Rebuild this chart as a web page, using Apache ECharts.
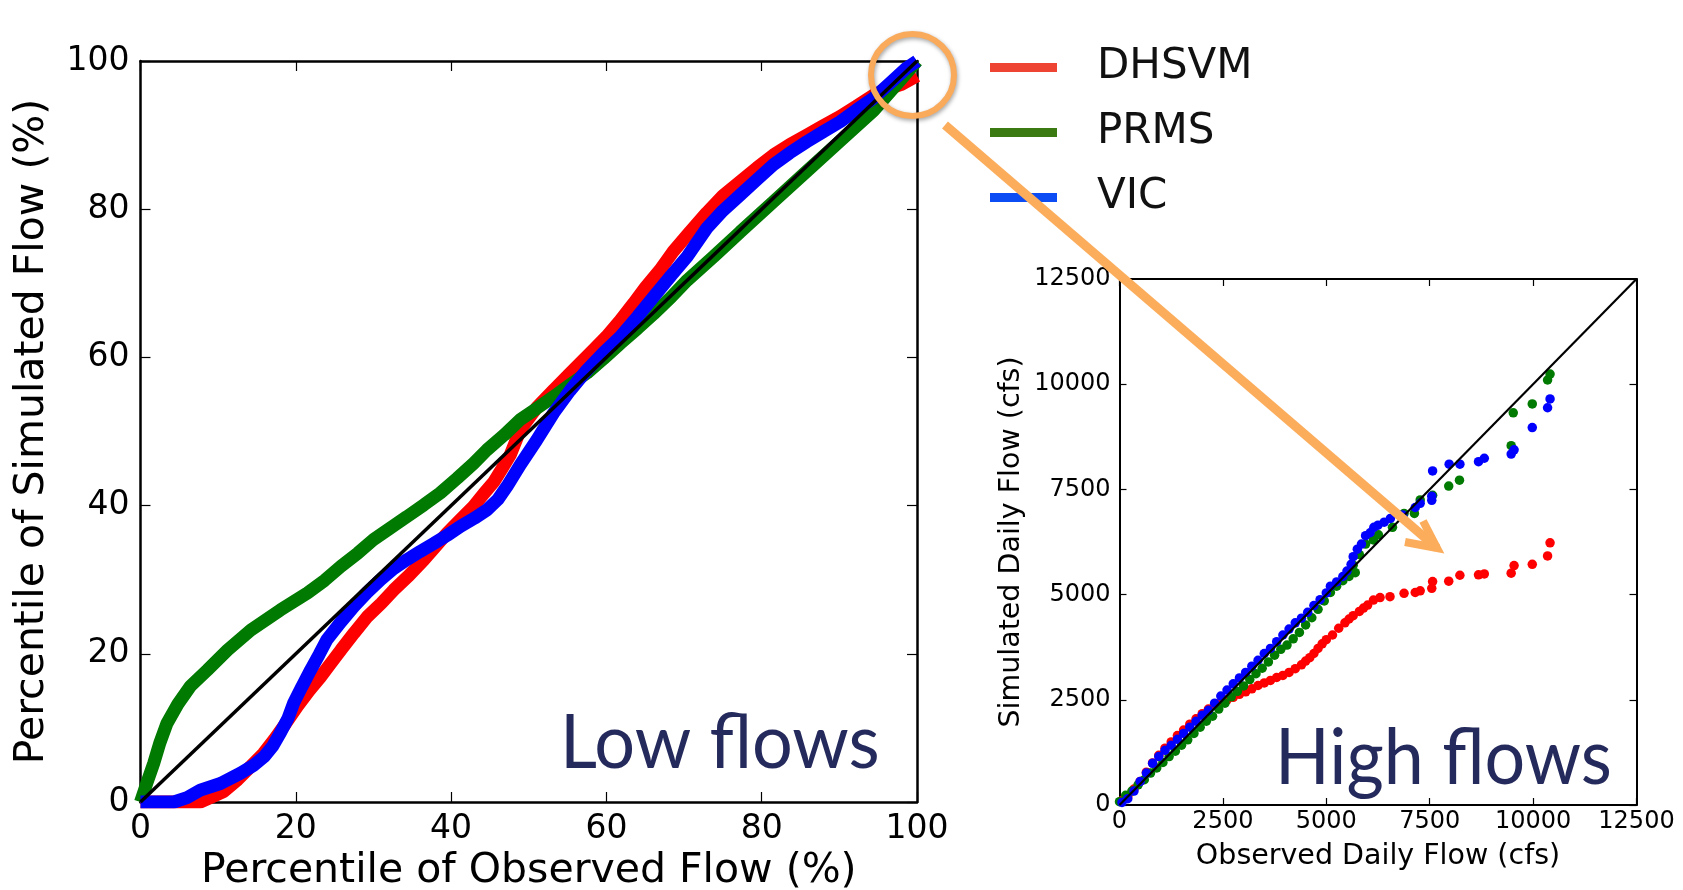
<!DOCTYPE html>
<html>
<head>
<meta charset="utf-8">
<title>Low flows / High flows</title>
<script src="https://cdn.jsdelivr.net/npm/echarts@6/dist/echarts.min.js"></script>
<style>
  html, body { margin: 0; padding: 0; background: #fff; }
  #chart { width: 1683px; height: 890px; }
</style>
</head>
<body>
<div id="chart"></div>
<script>
// legend / series names
var models = ['DHSVM', 'PRMS', 'VIC']

// low flows: percentile of observed (x) vs percentile of simulated (y)
var dhsvmLow = [[0,0],[4,0],[7.7,0],[9,0.6],[10.7,1.4],[12.5,3],[14.2,4.8],[15.8,6.5],[17.2,8.4],[18.7,10.6],[20.2,12.9],[21.7,15],[23.2,16.9],[24.5,18.7],[25.8,20.5],[27.5,22.8],[29.2,25],[31,26.8],[32.6,28.6],[34.6,30.6],[36.5,32.7],[38,34.5],[39.5,36.3],[41.2,38.1],[42.9,39.9],[44.2,41.6],[45.5,43.2],[46.5,44.9],[47.6,46.8],[48.9,50.2],[51,53.2],[53.2,55.6],[55,57.5],[56.6,59.2],[58.3,61],[60,62.8],[61.8,65],[63.5,67.3],[65,69.4],[66.9,71.8],[68.6,74.3],[70.8,77],[72.9,79.5],[75,81.8],[77.2,83.7],[79.4,85.6],[81.5,87.3],[83.6,88.7],[85.8,90],[88,91.3],[90.1,92.5],[92.2,93.9],[94.4,95.4],[96.2,96.2],[97.9,96.8],[100,98]]
var prmsLow = [[0,0],[0.8,2.5],[1.7,5.2],[2.5,8],[3.4,10.6],[4.8,13.2],[6.4,15.6],[8.6,17.8],[11.2,20.5],[14.2,23.2],[18,25.9],[21.5,28.2],[23.7,29.9],[25.8,31.8],[28,33.6],[30,35.4],[32.2,37],[34.3,38.5],[36.5,40.1],[38.6,41.7],[40.8,43.7],[42.9,45.7],[44.6,47.5],[46.8,49.5],[48.9,51.6],[51,53.1],[53.2,54.7],[55.3,56.3],[57.5,57.9],[59.6,59.8],[61.8,61.9],[64,63.9],[66.1,65.9],[68.3,68.1],[70.4,70.4],[73.8,73.6],[77.2,76.9],[81.5,81],[86,85.3],[90.1,89.2],[94.4,93.3],[97,96.4],[100,100]]
var vicLow = [[0,0],[4.3,0],[6,0.6],[7.7,1.6],[10.3,2.5],[12.9,3.9],[14.5,4.9],[15.9,6.1],[17,7.5],[18,9.3],[19,11.3],[19.7,13.3],[20.8,15.6],[21.9,17.8],[23,19.9],[24,21.9],[25.8,24.3],[27.5,26.4],[29.2,28.3],[30.9,30],[32.6,31.5],[34.3,32.7],[36,33.8],[37.8,34.9],[39.5,36],[41.2,37.2],[43,38.3],[44.6,39.4],[46,40.8],[47.2,42.6],[48.9,45.5],[51,48.8],[53.2,52.5],[55.3,55.5],[57.5,58.3],[59.6,60.6],[61.8,62.8],[64,65.5],[66.1,68.2],[68.3,71],[70.4,73.6],[72.9,77.4],[75,79.8],[77.2,81.9],[79.4,84],[81.5,86],[83.6,87.6],[85.8,89.1],[88,90.5],[90.1,91.8],[92.2,93.4],[94.4,95],[96.5,97],[98.6,99],[100,100]]
var oneToOneLow = [[0,0],[100,100]]
var pctTicks = { min: 0, max: 100, interval: 20 }

// high flows: observed daily flow (x, cfs) vs simulated daily flow (y, cfs)
var dhsvmHigh = [[50,100],[200,200],[350,380],[500,560],[650,780],[800,1000],[950,1180],[1100,1350],[1250,1500],[1400,1650],[1550,1780],[1700,1920],[1850,2050],[2000,2170],[2150,2280],[2300,2380],[2450,2440],[2600,2500],[2750,2560],[2900,2630],[3050,2690],[3200,2760],[3350,2840],[3500,2900],[3650,2960],[3800,3030],[3950,3080],[4100,3150],[4250,3240],[4400,3330],[4500,3420],[4600,3500],[4700,3600],[4800,3720],[4900,3830],[5000,3930],[5150,4040],[5300,4200],[5450,4330],[5550,4420],[5650,4500],[5800,4600],[5900,4680],[6000,4750],[6140,4870],[6300,4930],[6540,4950],[6880,5030],[7150,5050],[7270,5090],[7550,5150],[7570,5310],[7960,5320],[8230,5460],[8680,5470],[8820,5490],[9470,5510],[9540,5690],[9980,5720],[10350,5920],[10410,6230]]
var prmsHigh = [[0,80],[150,230],[300,330],[450,480],[600,600],[750,760],[900,880],[1050,1010],[1200,1150],[1350,1280],[1500,1420],[1650,1550],[1800,1700],[1950,1850],[2100,1990],[2250,2110],[2400,2280],[2550,2420],[2700,2570],[2850,2700],[3000,2830],[3150,2980],[3300,3120],[3450,3250],[3600,3400],[3750,3560],[3900,3700],[4050,3800],[4200,3950],[4350,4100],[4500,4280],[4650,4450],[4800,4650],[4950,4850],[5100,5050],[5250,5200],[5400,5330],[5550,5430],[5700,5520],[5650,5700],[5800,5950],[5950,6200],[6140,6300],[6260,6420],[6600,6600],[6880,6930],[7130,6930],[7270,7250],[7570,7360],[7960,7580],[8220,7720],[9470,8540],[9520,9320],[9980,9530],[10350,10100],[10410,10240]]
var vicHigh = [[60,60],[200,150],[350,330],[500,560],[650,760],[800,990],[950,1150],[1100,1300],[1250,1420],[1400,1560],[1550,1700],[1700,1850],[1850,1990],[2000,2130],[2150,2250],[2300,2420],[2450,2590],[2600,2730],[2750,2880],[2900,3020],[3050,3150],[3200,3300],[3350,3440],[3500,3600],[3650,3720],[3800,3880],[3950,4040],[4100,4180],[4250,4330],[4400,4440],[4550,4580],[4700,4740],[4850,4880],[5000,5040],[5100,5200],[5250,5300],[5400,5430],[5500,5560],[5600,5720],[5650,5900],[5750,6080],[5850,6200],[5950,6400],[6060,6470],[6150,6600],[6250,6650],[6400,6720],[6550,6810],[6850,6890],[7150,7070],[7270,7170],[7550,7240],[7550,7340],[7570,7940],[7970,8100],[8230,8100],[8680,8160],[8820,8240],[9470,8340],[9540,8440],[9980,8970],[10350,9440],[10410,9650]]
var oneToOneHigh = [[0,0],[12500,12500]]
var flowTicks = { min: 0, max: 12500, interval: 2500 }

var lineColors = ['#ff0000', '#007a00', '#0000ff']
var legendColors = ['#ee4433', '#3b7a12', '#0c4cf5']
var font = 'DejaVu Sans'

var mCharts = echarts.init(document.getElementById('chart'))

// axis factory: main axes have labels, mirror axes only ticks
function axis(grid, pos, ticks, opts) {
  var a = {
    gridIndex: grid,
    type: 'value',
    position: pos,
    min: ticks.min,
    max: ticks.max,
    interval: ticks.interval,
    splitLine: { show: false },
    axisLine: { show: true, onZero: false, lineStyle: { color: '#000', width: opts.lw } },
    axisTick: { show: true, inside: true, length: opts.tick, lineStyle: { color: '#000', width: 1.2 } },
    axisLabel: {
      show: opts.label, color: '#000', fontFamily: font, fontSize: opts.fs, margin: opts.margin,
      showMinLabel: true, showMaxLabel: true,
      formatter: function (v) { return String(v) }  // no thousands separator
    }
  }
  if (opts.name) {
    a.name = opts.name
    a.nameLocation = 'middle'
    a.nameGap = opts.gap
    a.nameTextStyle = { color: '#000', fontFamily: font, fontSize: opts.nfs }
  }
  return a
}

var option = {
  animation: false,
  backgroundColor: '#fff',
  // fixed plot boxes; don't let v6 shrink them to fit names/labels
  grid: [
    { left: 140.5, top: 61, width: 776.5, height: 741, outerBoundsMode: 'none' },
    { left: 1119.5, top: 279, width: 517, height: 526, outerBoundsMode: 'none' }
  ],
  xAxis: [
    axis(0, 'bottom', pctTicks, { lw: 2.5, tick: 10, label: true, fs: 33, margin: 11, name: 'Percentile of Observed Flow (%)', gap: 47, nfs: 41 }),
    axis(0, 'top', pctTicks, { lw: 2.5, tick: 10, label: false }),
    axis(1, 'bottom', flowTicks, { lw: 2, tick: 7, label: true, fs: 24, margin: 5, name: 'Observed Daily Flow (cfs)', gap: 37, nfs: 28.5 }),
    axis(1, 'top', flowTicks, { lw: 2, tick: 7, label: false })
  ],
  yAxis: [
    axis(0, 'left', pctTicks, { lw: 2.5, tick: 10, label: true, fs: 33, margin: 11, name: 'Percentile of Simulated Flow (%)', gap: 88, nfs: 41 }),
    axis(0, 'right', pctTicks, { lw: 2.5, tick: 10, label: false }),
    axis(1, 'left', flowTicks, { lw: 2, tick: 7, label: true, fs: 24, margin: 9, name: 'Simulated Daily Flow (cfs)', gap: 93, nfs: 28.5 }),
    axis(1, 'right', flowTicks, { lw: 2, tick: 7, label: false })
  ],
  legend: {
    orient: 'vertical',
    left: 985,
    top: 41.5,
    icon: 'rect',
    itemWidth: 67,
    itemHeight: 9,
    itemGap: 23,
    selectedMode: false,
    textStyle: { color: '#111', fontFamily: font, fontSize: 42, lineHeight: 41, padding: [0, 0, 0, 35] },
    data: models.map(function (m, i) {
      return { name: m, itemStyle: { color: legendColors[i] } }
    })
  },
  series: [
    { name: models[0], type: 'line', xAxisIndex: 0, yAxisIndex: 0, data: dhsvmLow, showSymbol: false, z: 2, lineStyle: { width: 13, color: lineColors[0] }, itemStyle: { color: lineColors[0] } },
    { name: models[1], type: 'line', xAxisIndex: 0, yAxisIndex: 0, data: prmsLow, showSymbol: false, z: 3, lineStyle: { width: 13, color: lineColors[1] }, itemStyle: { color: lineColors[1] } },
    { name: models[2], type: 'line', xAxisIndex: 0, yAxisIndex: 0, data: vicLow, showSymbol: false, z: 4, lineStyle: { width: 13, color: lineColors[2] }, itemStyle: { color: lineColors[2] } },
    { type: 'line', xAxisIndex: 0, yAxisIndex: 0, data: oneToOneLow, showSymbol: false, z: 5, lineStyle: { width: 3.5, color: '#000' } },

    { name: models[0], type: 'scatter', xAxisIndex: 2, yAxisIndex: 2, data: dhsvmHigh, symbolSize: 9.5, z: 2, itemStyle: { color: lineColors[0], opacity: 1 } },
    { name: models[1], type: 'scatter', xAxisIndex: 2, yAxisIndex: 2, data: prmsHigh, symbolSize: 9.5, z: 3, itemStyle: { color: lineColors[1], opacity: 1 } },
    { name: models[2], type: 'scatter', xAxisIndex: 2, yAxisIndex: 2, data: vicHigh, symbolSize: 9.5, z: 4, itemStyle: { color: lineColors[2], opacity: 1 } },
    { type: 'line', xAxisIndex: 2, yAxisIndex: 2, data: oneToOneHigh, showSymbol: false, z: 5, lineStyle: { width: 2.2, color: '#000' } }
  ],
  // annotations: zoom circle, arrow and panel captions
  graphic: [
    { type: 'ellipse', z: 100, shape: { cx: 912.5, cy: 75, rx: 41.5, ry: 41 },
      style: { fill: 'none', stroke: '#f9aa5b', lineWidth: 6, shadowBlur: 4, shadowColor: 'rgba(0,0,0,0.35)', shadowOffsetX: 1, shadowOffsetY: 2 } },
    { type: 'polyline', z: 100, shape: { points: [[945, 125], [1437, 548]] },
      style: { stroke: '#fbad5c', lineWidth: 9, fill: 'none' } },
    { type: 'polyline', z: 100, shape: { points: [[1405, 542], [1437, 548], [1423, 521]] },
      style: { stroke: '#fbad5c', lineWidth: 8, fill: 'none', lineJoin: 'miter' } },
    { type: 'text', z: 100, x: 560, y: 744, scaleX: 0.96,
      style: { text: 'Low flows', font: '75px Lato', fill: '#252a5c', textVerticalAlign: 'middle' } },
    { type: 'text', z: 100, x: 1275, y: 759, scaleX: 0.92,
      style: { text: 'High flows', font: '78px Lato', fill: '#252a5c', textVerticalAlign: 'middle' } }
  ]
}

mCharts.setOption(option)
</script>
</body>
</html>
